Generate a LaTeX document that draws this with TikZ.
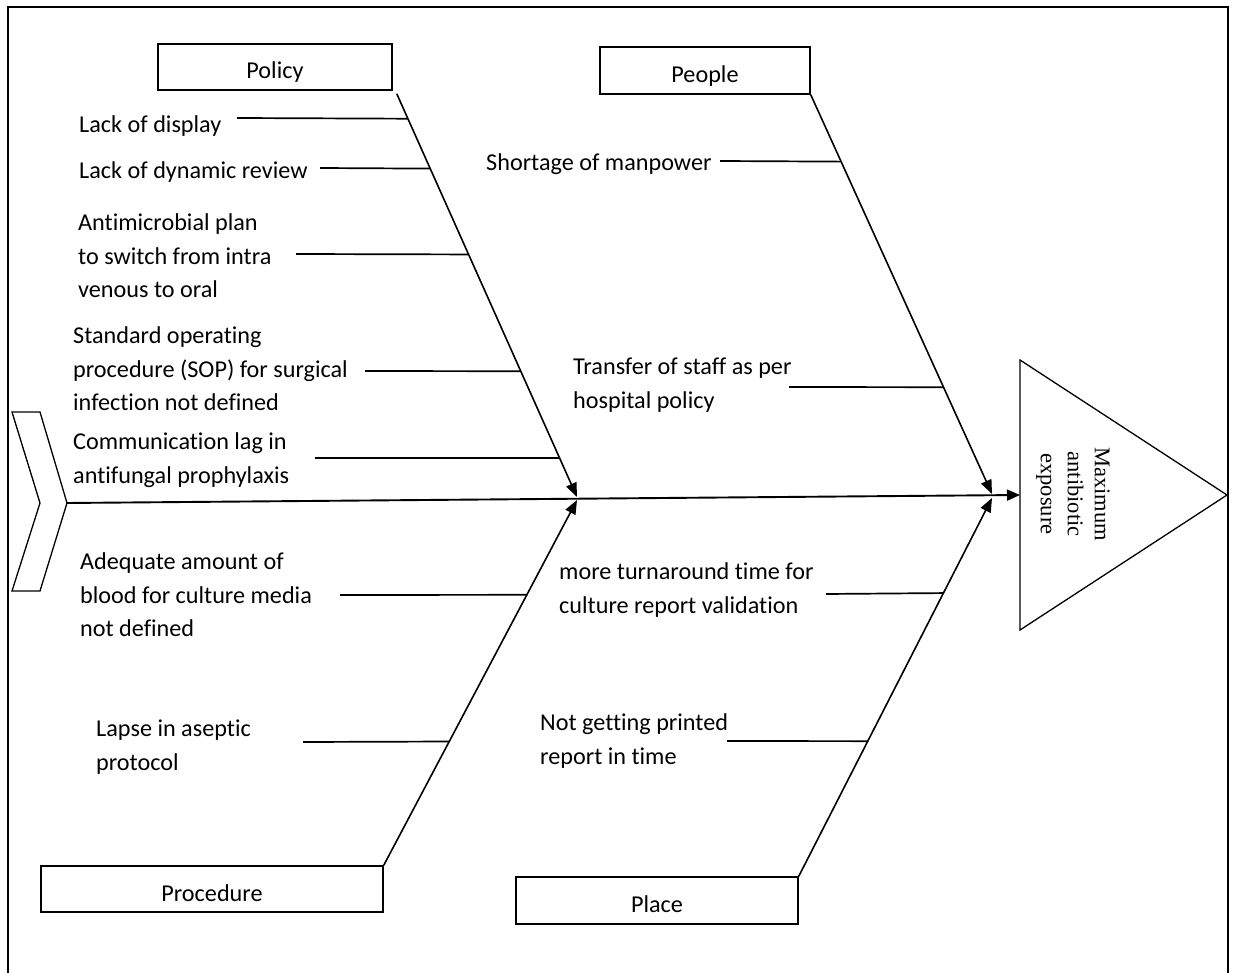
\documentclass[tikz,border=0pt]{standalone}
\usepackage{fontspec}
\setmainfont[Ligatures=NoCommon]{Carlito}
\newfontfamily\tnr{Liberation Serif}
\usetikzlibrary{arrows.meta,calc}
\begin{document}
\begin{tikzpicture}[x=1pt,y=-1pt,
  lab/.style={anchor=west, inner sep=0pt, align=left, font=\fontsize{24.2}{33.5}\selectfont},
  catbox/.style={draw, line width=1.5pt, inner sep=0pt, text height=26pt, text depth=2pt, font=\fontsize{24.2}{28}\selectfont},
  bone/.style={line width=1.6pt, -{Triangle[length=14pt,width=11pt]}},
  spine/.style={line width=1.9pt, -{Triangle[length=13pt,width=11pt]}},
  twig/.style={line width=1.7pt},
  outline/.style={line width=1.3pt},
]
\useasboundingbox (0,0) rectangle (1234,973);
% frame
\draw[line width=2pt] (8,973) -- (8,7) -- (1228,7) -- (1228,973);

% category boxes
\node[catbox, minimum width=234pt, minimum height=46pt] (policy) at (275,67) {Policy};
\node[catbox, minimum width=210pt, minimum height=47pt] (people) at (705,70.5) {People};
\node[catbox, minimum width=342pt, minimum height=46pt] (procedure) at (212,889) {Procedure};
\node[catbox, minimum width=282pt, minimum height=47pt] (place) at (657,900.5) {Place};

% tail and head
\draw[outline] (12,412) -- (40,412) -- (67,503) -- (40,591) -- (12,591) -- (40,503) -- cycle;
\coordinate (tail) at (67,503);
\draw[outline] (1020,360) -- (1227,495) -- (1020,630) -- cycle;
\coordinate (head) at (1020,495);
\node[font=\tnr\fontsize{22.5}{27}\selectfont, rotate=-90, align=center, inner sep=0pt] (effect) at (1073,494) {Maximum\\antibiotic\\exposure};

% spine
\draw[spine] (tail) -- (head);

% bones
\coordinate (polA) at ([shift={(4,3)}]policy.south east);
\coordinate (polB) at (577,497);
\coordinate (prA) at (procedure.north east);
\coordinate (prB) at (577,500);
\coordinate (peA) at (people.south east);
\coordinate (peB) at (992,494);
\coordinate (plA) at (place.north east);
\coordinate (plB) at (992,498);
\draw[bone] (polA) -- (polB);
\draw[bone] (prA) -- (prB);
\draw[bone] (peA) -- (peB);
\draw[bone] (plA) -- (plB);

% policy causes
\node[lab] (c1) at (79,126) {Lack of display};
\node[lab] (c2) at (79,172) {Lack of dynamic review};
\node[lab] (c3) at (78,256) {Antimicrobial plan\\to switch from intra\\venous to oral};
\node[lab] (c4) at (73,369) {Standard operating\\procedure (SOP) for surgical\\infection not defined};
\node[lab] (c5) at (73,460) {Communication lag in\\antifungal prophylaxis};
\coordinate (t1) at (237,118);  \coordinate (b1) at ($(polA)!{25/404}!(polB)$);
\coordinate (t2) at (320,168);  \coordinate (b2) at ($(polA)!{75/404}!(polB)$);
\coordinate (t3) at (296,254);  \coordinate (b3) at ($(polA)!{161/404}!(polB)$);
\coordinate (t4) at (365,371);  \coordinate (b4) at ($(polA)!{278/404}!(polB)$);
\coordinate (t5) at (315,458);  \coordinate (b5) at ($(polA)!{365/404}!(polB)$);
\foreach \i in {1,...,5} \draw[twig] (t\i) -- (b\i);

% procedure causes
\node[lab] (c6) at (80,595) {Adequate amount of\\blood for culture media\\not defined};
\node[lab] (c7) at (96,747) {Lapse in aseptic\\protocol};
\coordinate (t6) at (340,595);  \coordinate (b6) at ($(prA)!{271/366}!(prB)$);
\coordinate (t7) at (303,742);  \coordinate (b7) at ($(prA)!{124/366}!(prB)$);
\draw[twig] (t6) -- (b6);
\draw[twig] (t7) -- (b7);

% people causes
\node[lab] (c8) at (486,164) {Shortage of manpower};
\node[lab] (c9) at (573,385) {Transfer of staff as per\\hospital policy};
\coordinate (t8) at (720,161);  \coordinate (b8) at ($(peA)!{67/400}!(peB)$);
\coordinate (t9) at (789,387);  \coordinate (b9) at ($(peA)!{293/400}!(peB)$);
\draw[twig] (t8) -- (b8);
\draw[twig] (t9) -- (b9);

% place causes
\node[lab] (c10) at (559,590) {more turnaround time for\\culture report validation};
\node[lab] (c11) at (540,741) {Not getting printed\\report in time};
\coordinate (t10) at (826,594);  \coordinate (b10) at ($(plA)!{283/378}!(plB)$);
\coordinate (t11) at (727,741);  \coordinate (b11) at ($(plA)!{135/378}!(plB)$);
\draw[twig] (t10) -- (b10);
\draw[twig] (t11) -- (b11);
\end{tikzpicture}
\end{document}
